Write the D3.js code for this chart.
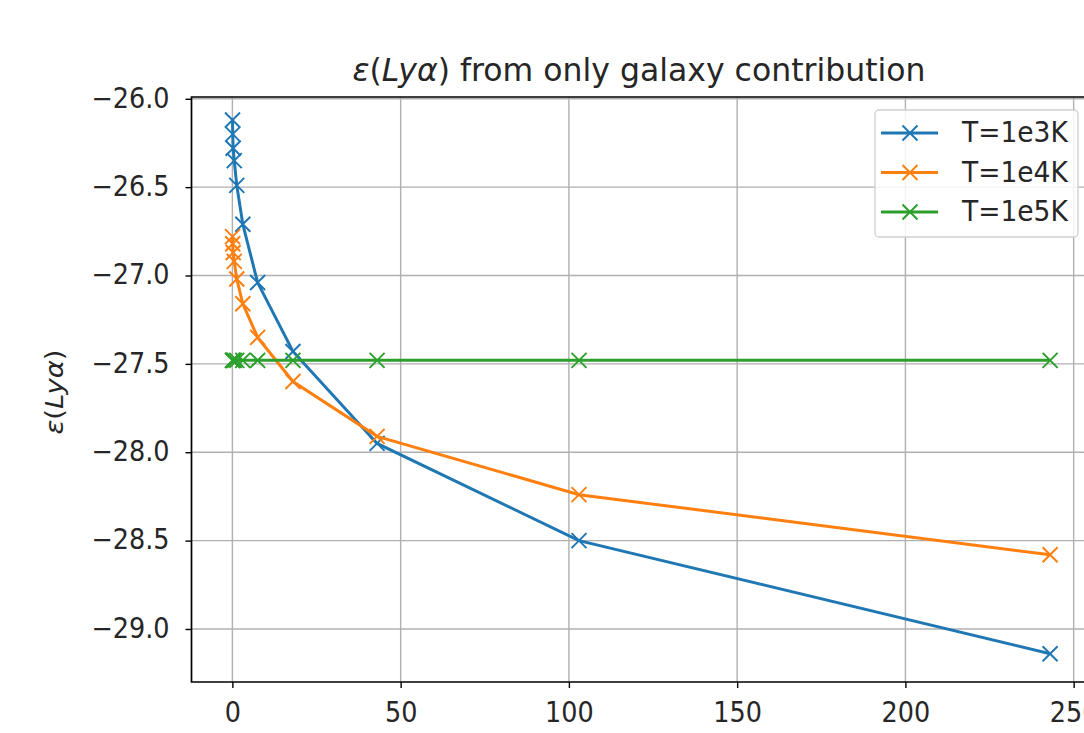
<!doctype html>
<html lang="en">
<head>
    <meta charset="UTF-8">
    <title>Lya emissivity</title>
    <style>
      body { margin: 0; background: #fff; }
      text { font-family: "DejaVu Sans", sans-serif; fill: #262626; }
    </style>
</head>
<body>
<div class="container"></div>

<script src="https://cdn.jsdelivr.net/npm/d3@7/dist/d3.min.js"></script>

<script>
  // data
  const xs = [0.04, 0.1, 0.23, 0.55, 1.3, 3.1, 7.5, 18, 43, 103, 243];
  const t1e3 = [-26.12, -26.20, -26.28, -26.35, -26.49, -26.71, -27.04, -27.43, -27.95, -28.50, -29.14];
  const t1e4 = [-26.78, -26.82, -26.87, -26.92, -27.02, -27.16, -27.35, -27.60, -27.91, -28.24, -28.58];
  const t1e5 = [-27.48, -27.48, -27.48, -27.48, -27.48, -27.48, -27.48, -27.48, -27.48, -27.48, -27.48];
  const seriesNames = ['T=1e3K', 'T=1e4K', 'T=1e5K'];
  const colors = ['#1f77b4', '#ff7f0e', '#2ca02c'];
  const xTicks = [0, 50, 100, 150, 200, 250];
  const yTicks = [-26.0, -26.5, -27.0, -27.5, -28.0, -28.5, -29.0];

  const SVG_WIDTH = 1084;
  const SVG_HEIGHT = 733;
  const LEFT = 191.5, TOP = 97, BOTTOM = 682, RIGHT = 1091;
  const STRETCH = 'scale(1,1.08)'; // text in the picture is a touch taller than wide

  const svg = d3.select('.container')
    .append('svg')
    .attr('width', SVG_WIDTH)
    .attr('height', SVG_HEIGHT);

  const x = d3.scaleLinear().domain([-12.15, 255.15]).range([LEFT, RIGHT]);
  const y = d3.scaleLinear().domain([-29.30, -25.99]).range([BOTTOM, TOP]);

  // grid
  const grid = svg.append('g').attr('stroke', '#b0b0b0').attr('stroke-width', 1.4);
  grid.selectAll('.gx').data(xTicks).enter().append('line')
    .attr('x1', d => x(d)).attr('x2', d => x(d))
    .attr('y1', TOP).attr('y2', BOTTOM);
  grid.selectAll('.gy').data(yTicks).enter().append('line')
    .attr('x1', LEFT).attr('x2', RIGHT)
    .attr('y1', d => y(d)).attr('y2', d => y(d));

  // axes
  const fmtY = d => d3.format('.1f')(d).replace('-', '\u2212');
  const xAxis = d3.axisBottom(x).tickValues(xTicks).tickSize(6).tickPadding(13).tickFormat(d3.format('d'));
  const yAxis = d3.axisLeft(y).tickValues(yTicks).tickSize(6).tickPadding(16).tickFormat(fmtY);

  const xg = svg.append('g').attr('transform', `translate(0,${BOTTOM})`).call(xAxis);
  const yg = svg.append('g').attr('transform', `translate(${LEFT},0)`).call(yAxis);
  [xg, yg].forEach(g => {
    g.select('.domain').remove();
    g.selectAll('.tick line').attr('stroke', '#000').attr('stroke-width', 1.4);
    g.selectAll('.tick text')
      .attr('font-family', '"DejaVu Sans", sans-serif')
      .attr('font-size', 25.5)
      .attr('fill', '#262626')
      .attr('transform', STRETCH);
  });
  yg.selectAll('.tick text').attr('dy', '0.3em');

  // spines
  svg.append('path')
    .attr('d', `M${RIGHT},${TOP}H${LEFT}V${BOTTOM}H${RIGHT}`)
    .attr('fill', 'none').attr('stroke', '#000').attr('stroke-width', 1.7);

  // series
  const allSeries = [t1e3, t1e4, t1e5];
  const line = d3.line().x(d => x(d[0])).y(d => y(d[1]));
  const xMark = s => `M${-s},${-s}L${s},${s}M${-s},${s}L${s},${-s}`;

  allSeries.forEach((vals, i) => {
    const pts = xs.map((xv, j) => [xv, vals[j]]);
    const g = svg.append('g');
    g.append('path').datum(pts)
      .attr('d', line)
      .attr('fill', 'none')
      .attr('stroke', colors[i])
      .attr('stroke-width', 3);
    g.selectAll('.m').data(pts).enter().append('path')
      .attr('transform', d => `translate(${x(d[0])},${y(d[1])})`)
      .attr('d', xMark(7.5))
      .attr('stroke', colors[i])
      .attr('stroke-width', 2)
      .attr('fill', 'none');
  });

  // title
  const title = svg.append('text')
    .attr('x', 639).attr('y', 81)
    .attr('text-anchor', 'middle')
    .attr('font-size', 31.5);
  title.append('tspan').attr('font-style', 'italic').text('\u03b5');
  title.append('tspan').text('(');
  title.append('tspan').attr('font-style', 'italic').text('Ly\u03b1');
  title.append('tspan').text(') from only galaxy contribution');

  // y label
  const ylab = svg.append('text')
    .attr('transform', 'translate(63,392) rotate(-90) scale(1.1,1)')
    .attr('text-anchor', 'middle')
    .attr('font-size', 25);
  ylab.append('tspan').attr('font-style', 'italic').text('\u03b5');
  ylab.append('tspan').text('(');
  ylab.append('tspan').attr('font-style', 'italic').text('Ly\u03b1');
  ylab.append('tspan').text(')');

  // legend
  const legend = svg.append('g');
  legend.append('rect')
    .attr('x', 875).attr('y', 110).attr('width', 203).attr('height', 127)
    .attr('rx', 4)
    .attr('fill', '#fff').attr('fill-opacity', 0.85)
    .attr('stroke', '#d0d0d0').attr('stroke-width', 1.3);
  seriesNames.forEach((name, i) => {
    const ly = 133 + i * 39.5;
    legend.append('line')
      .attr('x1', 881).attr('x2', 938).attr('y1', ly).attr('y2', ly)
      .attr('stroke', colors[i]).attr('stroke-width', 3);
    legend.append('path')
      .attr('transform', `translate(910,${ly})`)
      .attr('d', xMark(7.5))
      .attr('stroke', colors[i]).attr('stroke-width', 2);
    legend.append('text')
      .attr('transform', `translate(962,${ly + 9}) ${STRETCH}`)
      .attr('font-size', 26.5)
      .text(name);
  });
</script>
</body>
</html>
